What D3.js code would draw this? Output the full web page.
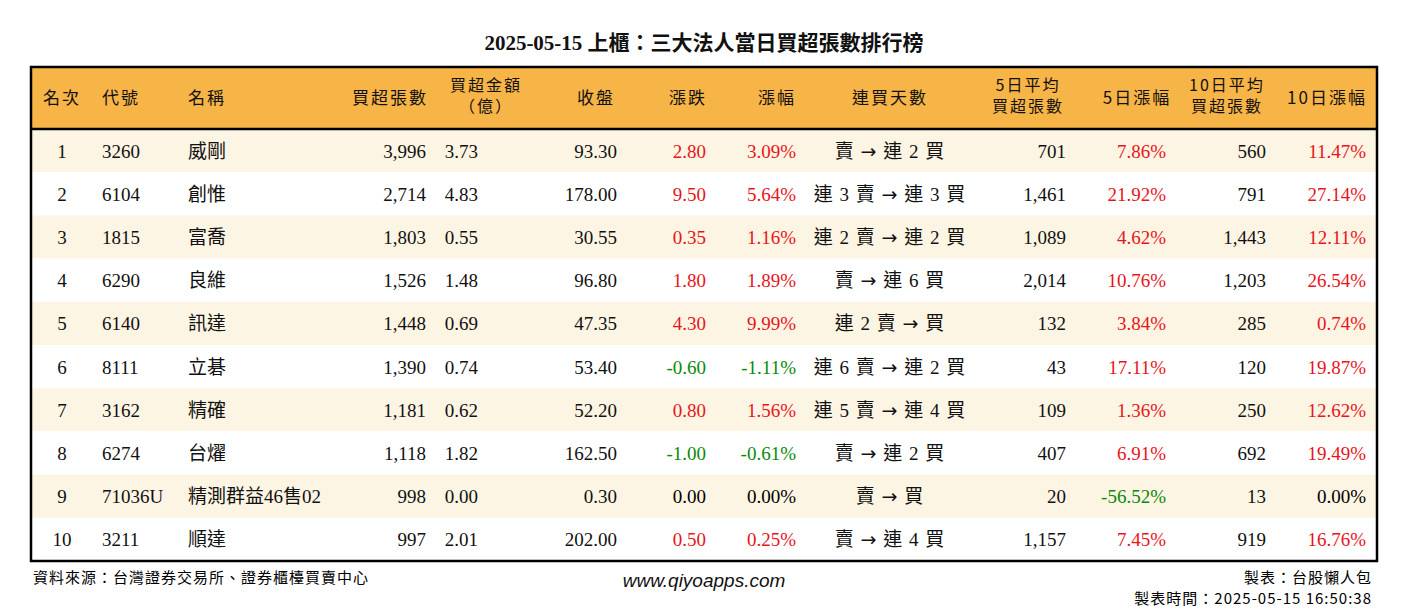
<!DOCTYPE html>
<html><head><meta charset="utf-8">
<script src="https://cdn.jsdelivr.net/npm/d3@7"></script>
<style>
body{margin:0;background:#fff;}
text{font-family:"Liberation Serif","Noto Sans CJK TC",serif;}
text.cjk{font-family:"Noto Sans CJK TC",sans-serif;}
text.url{font-family:"Liberation Sans",sans-serif;font-style:italic;}
tspan.arrow{font-family:"DejaVu Sans",sans-serif;}
</style></head>
<body><svg id="chart" width="1408" height="612"></svg>
<script>
// table data
const ranks = [1,2,3,4,5,6,7,8,9,10];
const codes = ["3260","6104","1815","6290","6140","8111","3162","6274","71036U","3211"];
const names = ["威剛","創惟","富喬","良維","訊達","立碁","精確","台燿","精測群益46售02","順達"];
const netBuy = [3996,2714,1803,1526,1448,1390,1181,1118,998,997];
const amount = [3.73,4.83,0.55,1.48,0.69,0.74,0.62,1.82,0.00,2.01];
const close = [93.30,178.00,30.55,96.80,47.35,53.40,52.20,162.50,0.30,202.00];
const change = [2.80,9.50,0.35,1.80,4.30,-0.60,0.80,-1.00,0.00,0.50];
const changePct = [3.09,5.64,1.16,1.89,9.99,-1.11,1.56,-0.61,0.00,0.25];
const streak = ["賣 → 連 2 買","連 3 賣 → 連 3 買","連 2 賣 → 連 2 買","賣 → 連 6 買","連 2 賣 → 買","連 6 賣 → 連 2 買","連 5 賣 → 連 4 買","賣 → 連 2 買","賣 → 買","賣 → 連 4 買"];
const avg5 = [701,1461,1089,2014,132,43,109,407,20,1157];
const pct5 = [7.86,21.92,4.62,10.76,3.84,17.11,1.36,6.91,-56.52,7.45];
const avg10 = [560,791,1443,1203,285,120,250,692,13,919];
const pct10 = [11.47,27.14,12.11,26.54,0.74,19.87,12.62,19.49,0.00,16.76];

const svg = d3.select("#chart");
const tL = 31, tR = 1377, tT = 67, headH = 62, tB = 561;
const loc = d3.formatLocale({decimal:".", thousands:",", grouping:[3], currency:["",""], minus:"-"});
const fmtInt = loc.format(",");
const f2 = loc.format(".2f");
const col = v => v > 0 ? "#e8141b" : v < 0 ? "#0a8a0a" : "#000";

const y = d3.scaleBand().domain(d3.range(ranks.length)).range([tT + headH, tB]);

const cols = [
  {h:["名次"], x:62, a:"middle", v:i=>ranks[i]},
  {h:["代號"], x:102, a:"start", v:i=>codes[i]},
  {h:["名稱"], x:188, a:"start", v:i=>names[i]},
  {h:["買超張數"], x:426, a:"end", v:i=>fmtInt(netBuy[i])},
  {h:["買超金額","（億）"], x:478, a:"end", hx:486, ha:"middle", v:i=>f2(amount[i])},
  {h:["收盤"], x:617, a:"end", hx:596, ha:"middle", v:i=>f2(close[i])},
  {h:["漲跌"], x:706, a:"end", hx:688, ha:"middle", v:i=>f2(change[i]), c:i=>col(change[i])},
  {h:["漲幅"], x:796, a:"end", hx:777, ha:"middle", v:i=>f2(changePct[i])+"%", c:i=>col(changePct[i])},
  {h:["連買天數"], x:890, a:"middle", v:i=>streak[i], s:true},
  {h:["5日平均","買超張數"], x:1066, a:"end", hx:1028, ha:"middle", v:i=>fmtInt(avg5[i])},
  {h:["5日漲幅"], x:1166, a:"end", hx:1137, ha:"middle", v:i=>f2(pct5[i])+"%", c:i=>col(pct5[i])},
  {h:["10日平均","買超張數"], x:1266, a:"end", hx:1227, ha:"middle", v:i=>fmtInt(avg10[i])},
  {h:["10日漲幅"], x:1366, a:"end", hx:1327, ha:"middle", v:i=>f2(pct10[i])+"%", c:i=>col(pct10[i])}
];

svg.append("text").attr("x",704).attr("y",50).attr("text-anchor","middle")
  .attr("font-size",21).attr("font-weight","bold").attr("fill","#111")
  .text("2025-05-15 上櫃：三大法人當日買超張數排行榜");

svg.append("rect").attr("x",tL).attr("y",tT).attr("width",tR-tL).attr("height",headH).attr("fill","#f7b447");
svg.selectAll("rect.row").data(ranks).join("rect").attr("class","row")
  .attr("x",tL).attr("y",(d,i)=>y(i)).attr("width",tR-tL).attr("height",y.bandwidth())
  .attr("fill",(d,i)=>i%2===0?"#fdf5e3":"#fff");

cols.forEach(c => {
  const hx = c.hx ?? c.x, ha = c.ha ?? c.a;
  if (c.h.length === 1) {
    svg.append("text").attr("class","cjk").attr("text-anchor",ha).attr("font-size",17).attr("fill","#111")
      .attr("letter-spacing",2).attr("x",c.a==="end"&&!c.hx?c.x+2:hx).attr("y",tT+headH/2+6).text(c.h[0]);
  } else {
    c.h.forEach((s,k)=>svg.append("text").attr("class","cjk").attr("text-anchor",ha).attr("font-size",16)
      .attr("fill","#111").attr("letter-spacing",2).attr("x",hx).attr("y",tT+24+k*21).text(s));
  }
  const cells = svg.selectAll(null).data(ranks).join("text")
    .attr("x",c.x).attr("y",(d,i)=>y(i)+y.bandwidth()/2+7)
    .attr("text-anchor",c.a).attr("font-size",19)
    .attr("fill",(d,i)=>c.c?c.c(i):"#111");
  if (c.s) {
    cells.attr("letter-spacing",1).each(function(d,i){
      const parts = c.v(i).split("→");
      const el = d3.select(this);
      el.append("tspan").text(parts[0]);
      el.append("tspan").attr("class","arrow").text("→");
      el.append("tspan").text(parts[1]);
    });
  } else cells.text((d,i)=>c.v(i));
});

svg.append("line").attr("x1",tL).attr("x2",tR).attr("y1",tT+headH).attr("y2",tT+headH).attr("stroke","#000").attr("stroke-width",2.5);
svg.append("rect").attr("x",tL).attr("y",tT).attr("width",tR-tL).attr("height",tB-tT)
  .attr("fill","none").attr("stroke","#000").attr("stroke-width",2.5);

svg.append("text").attr("class","cjk").attr("x",33).attr("y",583).attr("font-size",15).attr("letter-spacing",1).text("資料來源：台灣證券交易所、證券櫃檯買賣中心");
svg.append("text").attr("class","url").attr("x",704).attr("y",587).attr("text-anchor","middle").attr("font-size",19).attr("fill","#111").text("www.qiyoapps.com");
svg.append("text").attr("class","cjk").attr("x",1372).attr("y",583).attr("text-anchor","end").attr("font-size",15).attr("letter-spacing",1).text("製表：台股懶人包");
svg.append("text").attr("class","cjk").attr("x",1372).attr("y",604).attr("text-anchor","end").attr("font-size",15).attr("letter-spacing",1).text("製表時間：2025-05-15 16:50:38");
</script></body></html>
